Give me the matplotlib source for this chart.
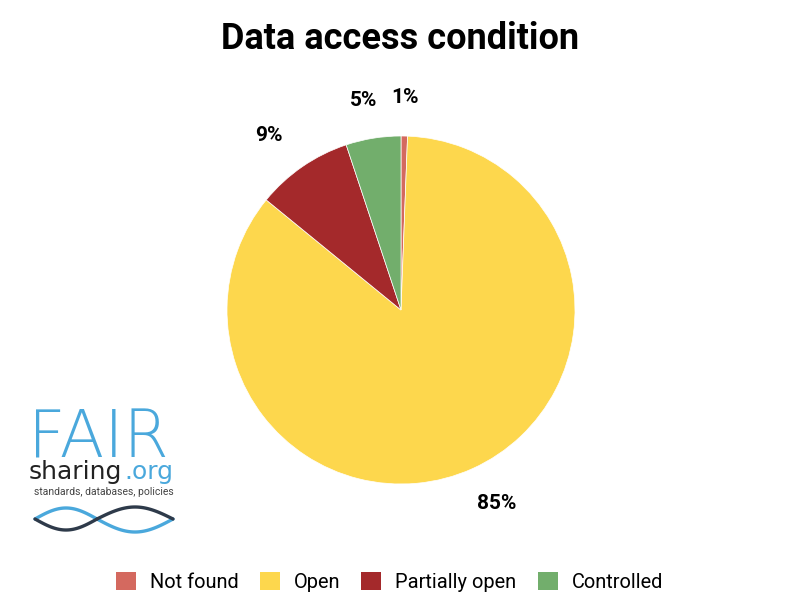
import numpy as np
import matplotlib.pyplot as plt
from matplotlib.patches import Patch

plt.rcParams['font.family'] = ['Roboto', 'DejaVu Sans']

categories = ['Not found', 'Open', 'Partially open', 'Controlled']
shares = [0.6, 85.3, 9.0, 5.1]
colors = ['#d4695f', '#fdd74d', '#a4292b', '#72ae6c']
title = 'Data access condition'

W, H = 800, 600
fig = plt.figure(figsize=(8, 6), dpi=100)

# pie axes: centre (401, 310) px, radius 174 px
cx, cy, r = 401, 310, 174
ax = fig.add_axes([(cx - r) / W, (H - cy - r) / H, 2 * r / W, 2 * r / H])
wedges, _ = ax.pie(shares, colors=colors, startangle=90, counterclock=False,
                   wedgeprops=dict(edgecolor='white', linewidth=0.5), radius=1)
ax.set_xlim(-1, 1)
ax.set_ylim(-1, 1)
ax.set_aspect('equal')
ax.axis('off')

# percentage labels outside the wedges (pushed a bit further sideways)
for w, v in zip(wedges, shares):
    ang = np.deg2rad((w.theta1 + w.theta2) / 2)
    ax.text(1.34 * np.cos(ang), 1.22 * np.sin(ang), f"{v:.0f}%", ha='center', va='center',
            fontsize=15, fontweight='bold', color='black', clip_on=False)

fig.text(0.5, 1 - 49 / H, title, ha='center', va='baseline', fontsize=26, fontweight='bold')

handles = [Patch(facecolor=c, edgecolor='none') for c in colors]
fig.legend(handles, categories, loc='center', bbox_to_anchor=(389.5 / W, 1 - 582 / H),
           ncol=4, frameon=False, fontsize=14.4, handlelength=1.0, handleheight=1.0,
           handletextpad=0.7, columnspacing=1.05)

# FAIRsharing logo, lower left
blue = '#4aa8dc'
dark = '#2e3a4a'
fig.text(28 / W, 1 - 457 / H, 'FAIR', fontsize=47, family='DejaVu Sans',
         fontweight=200, color=blue, ha='left', va='baseline')
t = fig.text(29 / W, 1 - 479 / H, 'sharing', fontsize=18, family='DejaVu Sans',
             color='#222222', ha='left', va='baseline')
fig.canvas.draw()
bb = t.get_window_extent()
fig.text((bb.x1 + 2) / W, 1 - 479 / H, '.org', fontsize=18, family='DejaVu Sans',
         color=blue, ha='left', va='baseline')
fig.text(34 / W, 1 - 495 / H, 'standards, databases, policies', fontsize=7.5,
         color='#444444', ha='left', va='baseline')

lax = fig.add_axes([0, 0, 1, 1], facecolor='none')
lax.set_xlim(0, W)
lax.set_ylim(H, 0)
lax.axis('off')
xl = np.linspace(35, 97, 60)
xr = np.linspace(97, 173, 60)
sl = np.sin(np.pi * (xl - 35) / 62)
sr = np.sin(np.pi * (xr - 97) / 76)
lax.plot(xl, 519 - 11 * sl, color=blue, lw=2.4, solid_capstyle='round')
lax.plot(xr, 519 + 13 * sr, color=blue, lw=2.4, solid_capstyle='round')
lax.plot(xl, 519 + 11 * sl, color=dark, lw=2.4, solid_capstyle='round')
lax.plot(xr, 519 - 12 * sr, color=dark, lw=2.4, solid_capstyle='round')

fig.savefig('out.png', dpi=100)
